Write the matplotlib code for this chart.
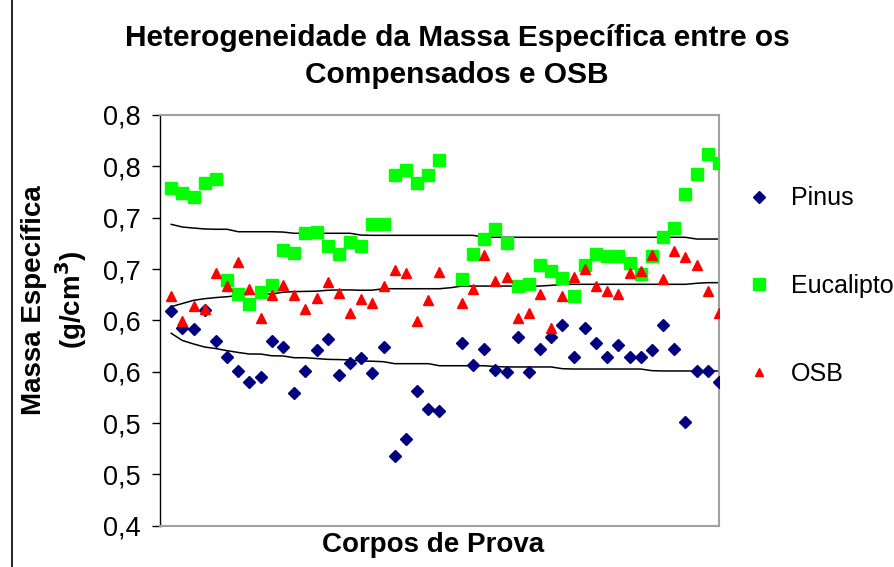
import numpy as np
import matplotlib
matplotlib.use("Agg")
import matplotlib.pyplot as plt
from matplotlib.lines import Line2D

plt.rcParams['font.family'] = ['Liberation Sans', 'DejaVu Sans']

nan = np.nan

# corpos de prova 1..50 (posicao 26 sem dado)
corpos = list(range(1, 51))

pinus = [0.609, 0.593, 0.592, 0.610, 0.580, 0.564, 0.551, 0.540, 0.545, 0.580,
         0.574, 0.529, 0.551, 0.571, 0.582, 0.547, 0.558, 0.563, 0.549, 0.574,
         0.468, 0.484, 0.531, 0.514, 0.512, nan, 0.578, 0.557, 0.572, 0.552,
         0.550, 0.584, 0.550, 0.572, 0.584, 0.595, 0.564, 0.593, 0.578, 0.564,
         0.576, 0.564, 0.564, 0.571, 0.595, 0.572, 0.501, 0.551, 0.551, 0.540]

eucalipto = [0.729, 0.724, 0.720, 0.734, 0.738, 0.639, 0.626, 0.616, 0.628, 0.634,
             0.669, 0.666, 0.685, 0.686, 0.672, 0.665, 0.676, 0.672, 0.694, 0.694,
             0.742, 0.746, 0.734, 0.742, 0.756, nan, 0.640, 0.665, 0.679, 0.689,
             0.675, 0.633, 0.635, 0.654, 0.648, 0.641, 0.624, 0.654, 0.665, 0.663,
             0.663, 0.656, 0.645, 0.663, 0.681, 0.690, 0.723, 0.743, 0.762, 0.753]

osb = [0.624, 0.599, 0.614, 0.611, 0.646, 0.633, 0.657, 0.631, 0.602, 0.625,
       0.634, 0.625, 0.611, 0.622, 0.637, 0.627, 0.607, 0.621, 0.617, 0.633,
       0.649, 0.646, 0.599, 0.620, 0.647, nan, 0.617, 0.631, 0.664, 0.638,
       0.642, 0.602, 0.607, 0.626, 0.593, 0.624, 0.642, 0.650, 0.633, 0.629,
       0.626, 0.646, 0.648, 0.664, 0.640, 0.668, 0.662, 0.654, 0.629, 0.607]

# linhas de referencia
linha_sup = [0.6935, 0.6909, 0.6899, 0.6890, 0.6887, 0.6887, 0.6863, 0.6863, 0.6863, 0.6863,
             0.6860, 0.6848, 0.6848, 0.6848, 0.6848, 0.6848, 0.6848, 0.6830, 0.6828, 0.6828,
             0.6828, 0.6828, 0.6828, 0.6828, 0.6828, 0.6828, 0.6828, 0.6828, 0.6809, 0.6809,
             0.6809, 0.6809, 0.6809, 0.6809, 0.6809, 0.6809, 0.6809, 0.6809, 0.6809, 0.6809,
             0.6809, 0.6809, 0.6809, 0.6809, 0.6809, 0.6809, 0.6809, 0.6792, 0.6792, 0.6792]

linha_med = [0.6133, 0.6164, 0.6195, 0.6211, 0.6222, 0.6230, 0.6242, 0.6255, 0.6257, 0.6257,
             0.6274, 0.6280, 0.6282, 0.6284, 0.6293, 0.6296, 0.6296, 0.6293, 0.6294, 0.6308,
             0.6308, 0.6308, 0.6308, 0.6308, 0.6308, 0.6318, 0.6334, 0.6334, 0.6334, 0.6334,
             0.6334, 0.6334, 0.6334, 0.6334, 0.6341, 0.6351, 0.6351, 0.6351, 0.6351, 0.6351,
             0.6351, 0.6351, 0.6351, 0.6351, 0.6351, 0.6351, 0.6351, 0.6361, 0.6367, 0.6367]

linha_inf = [0.5874, 0.5804, 0.5770, 0.5740, 0.5725, 0.5705, 0.5687, 0.5672, 0.5672, 0.5655,
             0.5653, 0.5636, 0.5636, 0.5628, 0.5620, 0.5618, 0.5614, 0.5604, 0.5602, 0.5597,
             0.5578, 0.5578, 0.5578, 0.5578, 0.5558, 0.5558, 0.5558, 0.5558, 0.5558, 0.5550,
             0.5546, 0.5546, 0.5546, 0.5546, 0.5546, 0.5529, 0.5526, 0.5526, 0.5526, 0.5526,
             0.5526, 0.5526, 0.5526, 0.5510, 0.5507, 0.5507, 0.5507, 0.5507, 0.5507, 0.5507]

yticks = [0.40, 0.45, 0.50, 0.55, 0.60, 0.65, 0.70, 0.75, 0.80]
ytick_labels = ["0,4", "0,5", "0,5", "0,6", "0,6", "0,7", "0,7", "0,8", "0,8"]

fig = plt.figure(figsize=(8.95, 5.67), dpi=100)
ax = fig.add_axes([160 / 895, 41.3 / 567, 559 / 895, 410.7 / 567])

for linha in (linha_sup, linha_med, linha_inf):
    ax.plot(corpos, linha, color='black', lw=1.1, zorder=2)

ax.plot(corpos, pinus, ls='none', marker='D', ms=6.2, color='#000080',
        mec='#000080', zorder=3, label='Pinus')
ax.plot(corpos, eucalipto, ls='none', marker='s', ms=8.3, color='#00FF00',
        mec='#00FF00', zorder=3, label='Eucalipto')
ax.plot(corpos, osb, ls='none', marker='^', ms=6.8, color='#FF0000',
        mec='#FF0000', zorder=4, label='OSB')

ax.set_xlim(0, 50)
ax.set_ylim(0.4, 0.8)
ax.set_xticks([])
ax.set_yticks(yticks)
ax.set_yticklabels(ytick_labels, fontsize=19.5)
ax.tick_params(axis='y', direction='out', length=6, width=1, pad=8)

for s in ('top', 'right', 'bottom'):
    ax.spines[s].set_color('#a0a0a0')
    ax.spines[s].set_linewidth(1.5)
ax.spines['left'].set_color('black')
ax.spines['left'].set_linewidth(1)

fig.text(457 / 895, 1 - 56.5 / 567,
         "Heterogeneidade da Massa Específica entre os\nCompensados e OSB",
         ha='center', va='center', fontsize=21.5, fontweight='bold', linespacing=1.38)
fig.text(55 / 895, 1 - 300 / 567, "Massa Específica\n(g/cm$^\\mathbf{3}$)",
         rotation=90, ha='center', va='center', fontsize=20, fontweight='bold',
         linespacing=1.2)
fig.text(433 / 895, 1 - 545 / 567, "Corpos de Prova",
         ha='center', va='center', fontsize=20, fontweight='bold')

handles = [Line2D([], [], ls='none', marker='D', ms=6.2, color='#000080'),
           Line2D([], [], ls='none', marker='s', ms=8.3, color='#00FF00'),
           Line2D([], [], ls='none', marker='^', ms=6.0, color='#FF0000')]
fig.legend(handles, ['Pinus', 'Eucalipto', 'OSB'], loc='center left',
           bbox_to_anchor=(747 / 895, 1 - 286 / 567), bbox_transform=fig.transFigure,
           frameon=False, fontsize=18, handlelength=1.0, handletextpad=0.75,
           labelspacing=2.55, borderpad=0, borderaxespad=0)

fig.add_artist(Line2D([12 / 895, 12 / 895], [0, 1], color='black', lw=1.2,
                      transform=fig.transFigure))

fig.savefig("out.png", dpi=100)
